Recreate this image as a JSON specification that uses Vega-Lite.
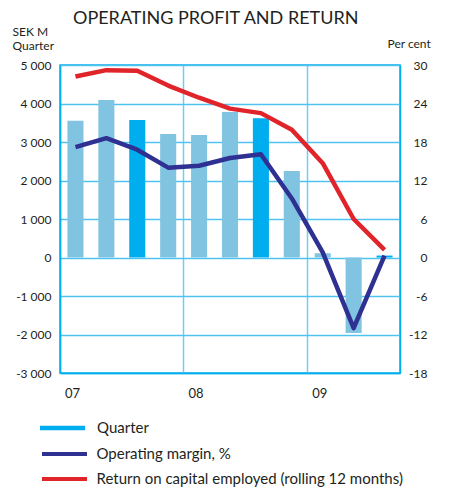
{
  "$schema": "https://vega.github.io/schema/vega-lite/v6.json",
  "autosize": {"type": "none"},
  "padding": {"left": 60, "top": 65, "right": 56, "bottom": 115},
  "width": 340,
  "height": 308,
  "title": {
    "text": "OPERATING PROFIT AND RETURN",
    "anchor": "start",
    "frame": "group",
    "dx": 13,
    "dy": 17,
    "offset": 0,
    "fontSize": 18,
    "font": "Lato",
    "fontWeight": "normal",
    "color": "#231F20",
    "baseline": "alphabetic"
  },
  "data": {
    "values": [
      {"q": "07-1", "profit": 3550, "cat": "Other", "margin": 17.2, "roce": 28.2},
      {"q": "07-2", "profit": 4090, "cat": "Other", "margin": 18.6, "roce": 29.2},
      {"q": "07-3", "profit": 3570, "cat": "Quarter", "margin": 16.8, "roce": 29.1},
      {"q": "07-4", "profit": 3210, "cat": "Other", "margin": 14.0, "roce": 26.8},
      {"q": "08-1", "profit": 3180, "cat": "Other", "margin": 14.3, "roce": 24.9},
      {"q": "08-2", "profit": 3780, "cat": "Other", "margin": 15.5, "roce": 23.2},
      {"q": "08-3", "profit": 3620, "cat": "Quarter", "margin": 16.1, "roce": 22.5},
      {"q": "08-4", "profit": 2250, "cat": "Other", "margin": 9.2, "roce": 19.9},
      {"q": "09-1", "profit": 110, "cat": "Other", "margin": 0.8, "roce": 14.7},
      {"q": "09-2", "profit": -1960, "cat": "Other", "margin": -11.0, "roce": 6.0},
      {"q": "09-3", "profit": 50, "cat": "Quarter", "margin": 0.3, "roce": 1.2}
    ]
  },
  "config": {
    "font": "Lato",
    "view": {"stroke": "#00AEEF", "strokeWidth": 1.5},
    "axis": {
      "labelFont": "Lato",
      "labelFontSize": 12,
      "labelColor": "#231F20",
      "titleFont": "Lato",
      "titleFontSize": 12,
      "titleFontWeight": "normal",
      "titleColor": "#231F20",
      "domainColor": "#00AEEF",
      "domainWidth": 1.5,
      "ticks": false,
      "gridColor": "#4FC3F0",
      "gridWidth": 1.5,
      "gridOpacity": 1
    },
    "legend": {
      "labelFont": "Lato",
      "labelFontSize": 15,
      "labelColor": "#231F20",
      "labelLimit": 400,
      "padding": 0
    }
  },
  "layer": [
    {
      "mark": {"type": "bar", "width": {"band": 0.52}},
      "encoding": {
        "x": {
          "field": "q",
          "type": "ordinal",
          "scale": {"paddingInner": 0, "paddingOuter": 0},
          "axis": {
            "title": null,
            "bandPosition": 0,
            "grid": true,
            "gridColor": {"condition": {"test": "substring(datum.value,3)=='1'", "value": "#6FCFF2"}, "value": "transparent"},
            "labelExpr": "substring(datum.value,3)=='1' ? substring(datum.value,0,2) : ''",
            "labelOffset": -3,
            "labelPadding": 14,
            "labelAngle": 0,
            "labelFontSize": 13
          }
        },
        "y": {
          "field": "profit",
          "type": "quantitative",
          "scale": {"domain": [-3000, 5000], "nice": false},
          "axis": {
            "title": ["SEK M", "Quarter"],
            "titleAngle": 0,
            "titleAlign": "left",
            "titleBaseline": "alphabetic",
            "titleX": -48,
            "titleY": -30,
            "titleLineHeight": 14,
            "values": [-3000, -2000, -1000, 0, 1000, 2000, 3000, 4000, 5000],
            "grid": true,
            "labelExpr": "(datum.value<0?'-':'') + replace(format(abs(datum.value), ','), ',', ' ')",
            "labelPadding": 9
          }
        },
        "fill": {
          "field": "cat",
          "type": "nominal",
          "scale": {"domain": ["Quarter", "Other"], "range": ["#00AEEF", "#80C4E2"]},
          "legend": {
            "title": null,
            "values": ["Quarter"],
            "orient": "none",
            "legendX": -7.5,
            "legendY": 353,
            "symbolType": "M-2.25,-0.225H2.25V0.225H-2.25Z",
            "symbolSize": 400,
            "symbolStrokeWidth": 0,
            "symbolOpacity": 1,
            "labelOffset": 24.5
          }
        }
      }
    },
    {
      "transform": [{"fold": ["margin", "roce"], "as": ["series", "pct"]}],
      "mark": {"type": "line", "strokeWidth": 4.5, "strokeJoin": "round"},
      "encoding": {
        "x": {"field": "q", "type": "ordinal"},
        "y": {
          "field": "pct",
          "type": "quantitative",
          "scale": {"domain": [-18, 30], "nice": false},
          "axis": {
            "orient": "right",
            "title": "Per cent",
            "titleAngle": 0,
            "titleAlign": "left",
            "titleBaseline": "alphabetic",
            "titleX": -13,
            "titleY": -18,
            "values": [-18, -12, -6, 0, 6, 12, 18, 24, 30],
            "grid": false,
            "labelAlign": "right",
            "labelPadding": 27,
            "labelExpr": "(datum.value<0?'-':'') + abs(datum.value)"
          }
        },
        "stroke": {
          "field": "series",
          "type": "nominal",
          "scale": {"domain": ["margin", "roce"], "range": ["#2E3192", "#E1232A"]},
          "legend": {
            "title": null,
            "orient": "none",
            "legendX": -7.5,
            "legendY": 377,
            "symbolType": "M-2.25,0H2.25",
            "symbolSize": 400,
            "symbolStrokeWidth": 4,
            "symbolOpacity": 1,
            "rowPadding": 5,
            "labelOffset": 20,
            "labelExpr": "datum.value=='margin' ? 'Operating margin, %' : 'Return on capital employed (rolling 12 months)'"
          }
        }
      }
    }
  ],
  "resolve": {"scale": {"y": "independent"}}
}
